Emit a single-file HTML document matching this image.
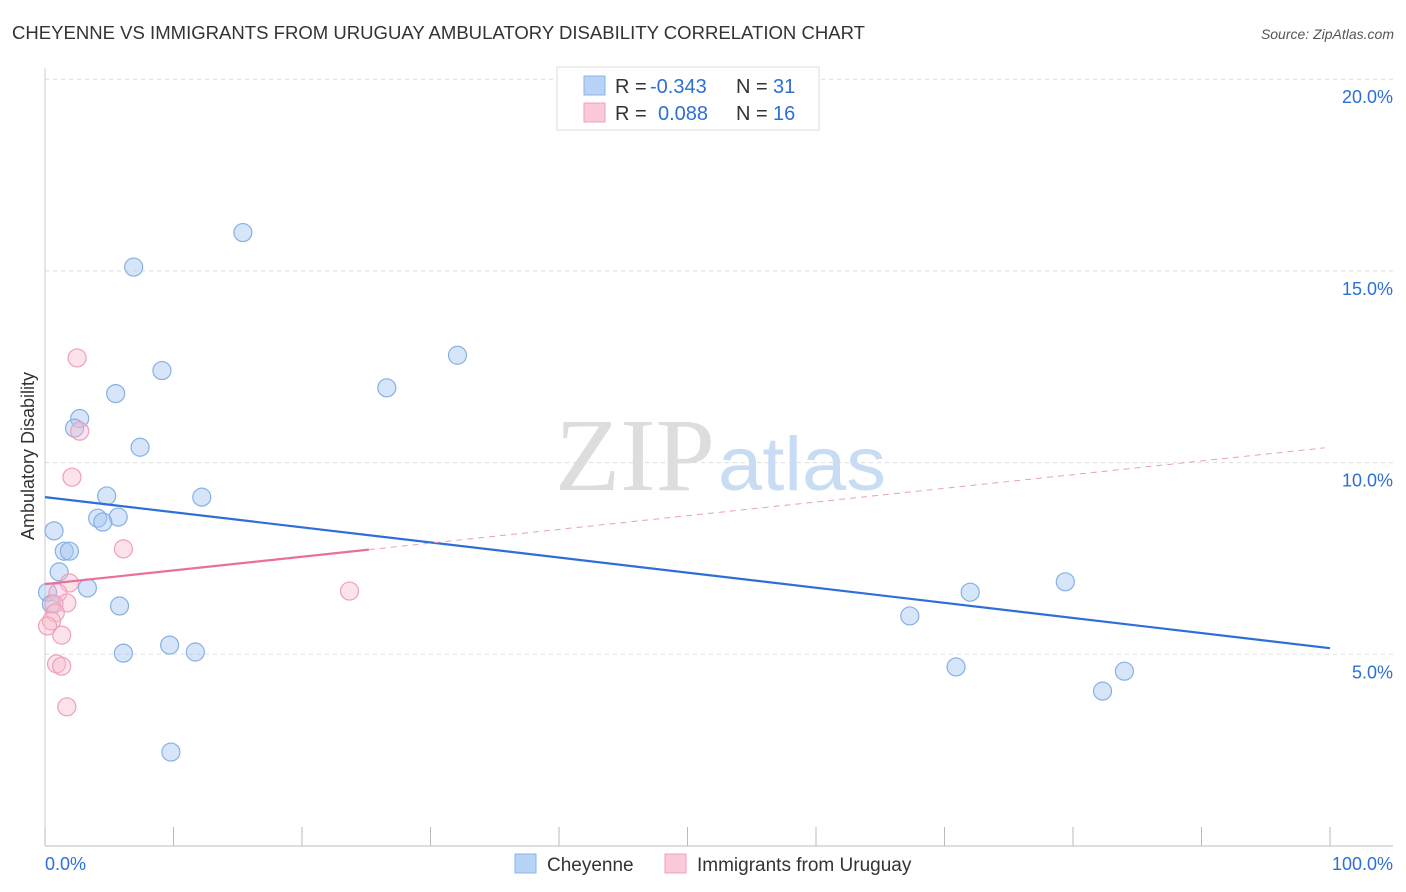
<!DOCTYPE html>
<html><head><meta charset="utf-8"><style>
body{margin:0;background:#fff;font-family:"Liberation Sans",sans-serif;}
svg{display:block}
</style></head><body>
<svg id="c" width="1406" height="892">
<text x="12" y="39" font-size="18" fill="#333" textLength="853" lengthAdjust="spacingAndGlyphs">CHEYENNE VS IMMIGRANTS FROM URUGUAY AMBULATORY DISABILITY CORRELATION CHART</text>
<text x="1394" y="39" font-size="14" fill="#555" font-style="italic" text-anchor="end">Source: ZipAtlas.com</text>
<text x="34" y="456" font-size="18" fill="#333" text-anchor="middle" transform="rotate(-90 34 456)">Ambulatory Disability</text>
<g id="grid"></g>
<text x="555" y="490" font-size="104" fill="#ddd" textLength="160" lengthAdjust="spacingAndGlyphs" font-family="Liberation Serif">ZIP</text>
<text x="718" y="490" font-size="76" fill="#c8dcf4" textLength="168" lengthAdjust="spacingAndGlyphs">atlas</text>
<g id="marks"></g>
<g>
<rect x="557" y="67" width="262" height="63" fill="#fff" stroke="#ddd"/>
<rect x="584" y="76" width="21" height="19" fill="#b8d3f5" stroke="#8ab4e8"/>
<rect x="584" y="103" width="21" height="19" fill="#fbc9d7" stroke="#f0a0b8"/>
<text x="615" y="93" font-size="20" fill="#333">R = <tspan x="650" fill="#2d6fd6">-0.343</tspan><tspan x="736">N = </tspan><tspan x="773" fill="#2d6fd6">31</tspan></text>
<text x="615" y="120" font-size="20" fill="#333">R = <tspan x="658" fill="#2d6fd6">0.088</tspan><tspan x="736">N = </tspan><tspan x="773" fill="#2d6fd6">16</tspan></text>
</g>
<g>
<rect x="515" y="854" width="21" height="19" fill="#b8d3f5" stroke="#8ab4e8"/>
<text x="547" y="871" font-size="19" fill="#333">Cheyenne</text>
<rect x="665" y="854" width="21" height="19" fill="#fbc9d7" stroke="#f0a0b8"/>
<text x="697" y="871" font-size="19" fill="#333">Immigrants from Uruguay</text>
</g>
<text x="45" y="870" font-size="18" fill="#2d6fd6">0.0%</text>
<text x="1393" y="870" font-size="18" fill="#2d6fd6" text-anchor="end">100.0%</text>
</svg>
<script>
const yTicks=[5,10,15,20];
const xTicks=[0,10,20,30,40,50,60,70,80,90,100];
const blueX=[15.4,6.9,9.1,5.5,32.1,26.6,2.7,2.3,7.4,4.8,12.2,5.7,4.1,4.5,0.7,1.5,1.9,1.1,3.3,0.2,0.5,5.8,67.3,72.0,79.4,9.7,6.1,11.7,70.9,84.0,82.3,9.8];
const blueY=[16.0,15.1,12.4,11.8,12.8,11.95,11.15,10.9,10.4,9.13,9.1,8.58,8.55,8.45,8.22,7.69,7.69,7.15,6.73,6.62,6.31,6.26,6.0,6.62,6.89,5.24,5.03,5.06,4.67,4.56,4.04,2.45];
const pinkX=[2.5,2.7,2.1,6.1,1.9,23.7,1.0,1.7,0.7,0.8,0.5,0.2,1.3,0.9,1.3,1.7];
const pinkY=[12.73,10.82,9.62,7.75,6.86,6.65,6.6,6.34,6.31,6.08,5.87,5.74,5.5,4.75,4.69,3.63];
const blueTrend=[9.10,5.16];
const pinkTrend=[6.83,10.4];
const pinkSolidEnd=25.2;
const X=v=>45+v*12.85, Y=v=>846-v*38.34;
const NS="http://www.w3.org/2000/svg";
function mk(tag,attrs,parent){const e=document.createElementNS(NS,tag);for(const k in attrs)e.setAttribute(k,attrs[k]);parent.appendChild(e);return e;}
const g=document.getElementById('grid'), m=document.getElementById('marks');
yTicks.forEach(t=>{
 const l=mk('line',{x1:45,x2:1393,y1:Y(t),y2:Y(t),stroke:'#ddd','stroke-dasharray':'4 4'},g);
 
 
 const tx=mk('text',{x:1393,y:Y(t)+24,'font-size':18,fill:'#2d6fd6','text-anchor':'end'},g);
 tx.textContent=t.toFixed(1)+'%';
 
 
});
const ax=mk('line',{x1:45,x2:1393,y1:846,y2:846,stroke:'#bbb'},g);


const ay=mk('line',{x1:45,x2:45,y1:68,y2:846,stroke:'#ccc'},g);


xTicks.forEach(t=>{
 const l=mk('line',{x1:X(t),x2:X(t),y1:827,y2:846,stroke:'#bbb'},g);
 
 
});
blueX.forEach((v,i)=>{
 const c=mk('circle',{cx:X(v),cy:Y(blueY[i]),r:9,fill:'rgba(165,198,240,0.45)',stroke:'#86b0e6','stroke-width':1.2},m);
 
 
});
pinkX.forEach((v,i)=>{
 const c=mk('circle',{cx:X(v),cy:Y(pinkY[i]),r:9,fill:'rgba(248,185,205,0.4)',stroke:'#eea0b8','stroke-width':1.2},m);
 
 
});
const bt=mk('line',{x1:X(0),y1:Y(blueTrend[0]),x2:X(100),y2:Y(blueTrend[1]),stroke:'#2d6fd6','stroke-width':2.2},m);


const py=x=>pinkTrend[0]+(pinkTrend[1]-pinkTrend[0])*x/100;
const pt=mk('line',{x1:X(0),y1:Y(py(0)),x2:X(pinkSolidEnd),y2:Y(py(pinkSolidEnd)),stroke:'#e8709a','stroke-width':2.2},m);


const pd=mk('line',{x1:X(pinkSolidEnd),y1:Y(py(pinkSolidEnd)),x2:X(99.6),y2:Y(py(99.6)),stroke:'#e8a0b8','stroke-width':1,'stroke-dasharray':'6 5'},m);


</script>
</body></html>
